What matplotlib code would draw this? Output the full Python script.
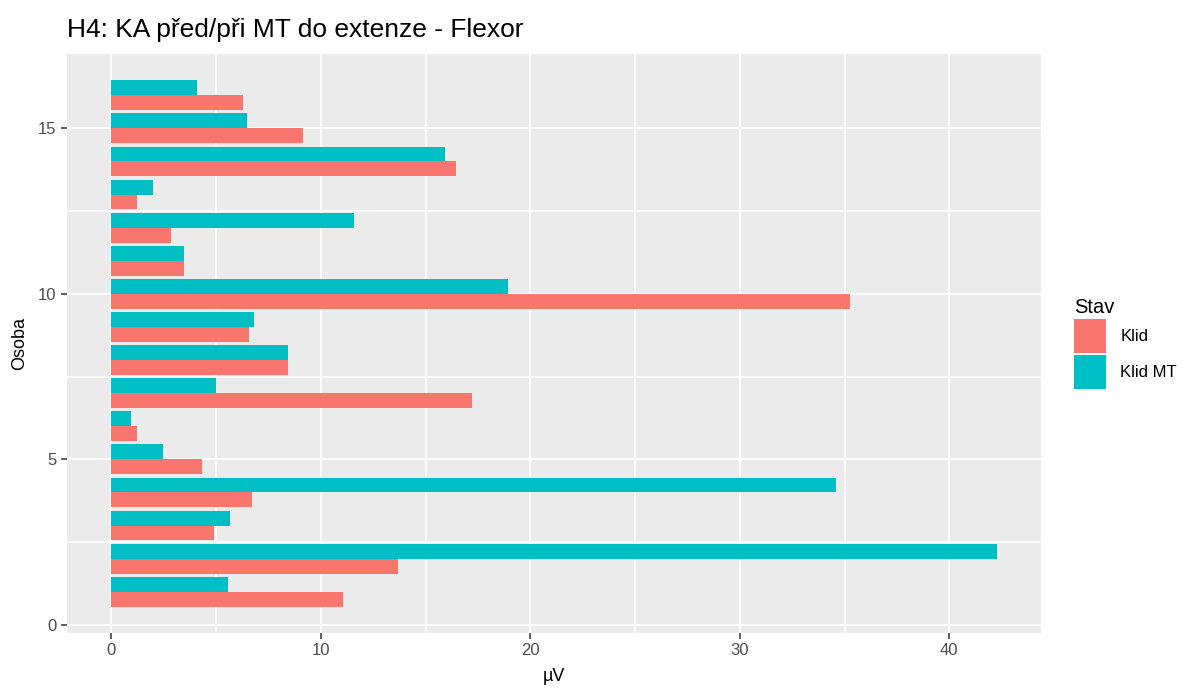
import matplotlib.pyplot as plt
from matplotlib.patches import Patch
import numpy as np

plt.rcParams['font.family'] = ['Liberation Sans', 'DejaVu Sans']

osoba = np.arange(1, 17)
klid = [11.05, 13.7, 4.9, 6.7, 4.33, 1.25, 17.2, 8.43, 6.57, 35.25, 3.48, 2.86, 1.22, 16.45, 9.14, 6.29]
klid_mt = [5.57, 42.26, 5.67, 34.6, 2.48, 0.95, 5.0, 8.43, 6.8, 18.95, 3.48, 11.6, 2.0, 15.95, 6.48, 4.1]

red = '#F8766D'
teal = '#00BFC4'
w = 0.45  # each bar; pair covers 0.9

fig = plt.figure(figsize=(11.83, 6.91), dpi=100)
ax = fig.add_axes([67 / 1183, 1 - 633 / 691, (1041 - 67) / 1183, (633 - 54) / 691])
ax.set_facecolor('#EBEBEB')

ax.barh(osoba - w / 2, klid, height=w, color=red, zorder=3)
ax.barh(osoba + w / 2, klid_mt, height=w, color=teal, zorder=3)

# ggplot-style expansion (5 %)
xmax = max(max(klid), max(klid_mt))
ax.set_xlim(-0.05 * xmax, 1.05 * xmax)
ylo, yhi = osoba[0] - w, osoba[-1] + w
pad = 0.05 * (yhi - ylo)
ax.set_ylim(ylo - pad, yhi + pad)

ax.set_xticks([0, 10, 20, 30, 40])
ax.set_yticks([0, 5, 10, 15])
ax.set_xticks([5, 15, 25, 35], minor=True)
ax.set_yticks([2.5, 7.5, 12.5], minor=True)
ax.grid(True, which='major', color='white', linewidth=1.5, zorder=0)
ax.grid(True, which='minor', color='white', linewidth=1.1, zorder=0)
ax.set_axisbelow(True)
for s in ax.spines.values():
    s.set_visible(False)
ax.tick_params(which='major', length=4, color='#333333', labelcolor='#4D4D4D', labelsize=12, width=1.1)
ax.tick_params(which='minor', length=0)

ax.set_xlabel('µV', fontsize=13, labelpad=7)
ax.set_ylabel('Osoba', fontsize=13, labelpad=7)
ax.set_title('H4: KA před/při MT do extenze - Flexor', loc='left', fontsize=19, pad=12)

handles = [Patch(facecolor=red, label='Klid'), Patch(facecolor=teal, label='Klid MT')]
leg = ax.legend(handles=handles, title='Stav', loc='center left', bbox_to_anchor=(1.027, 0.5),
                frameon=False, fontsize=12, title_fontsize=14.5, handlelength=1.92, handleheight=2.74,
                handletextpad=0.85, labelspacing=0.12, alignment='left', borderaxespad=0)

plt.savefig('out.png', dpi=100)
plt.close()
